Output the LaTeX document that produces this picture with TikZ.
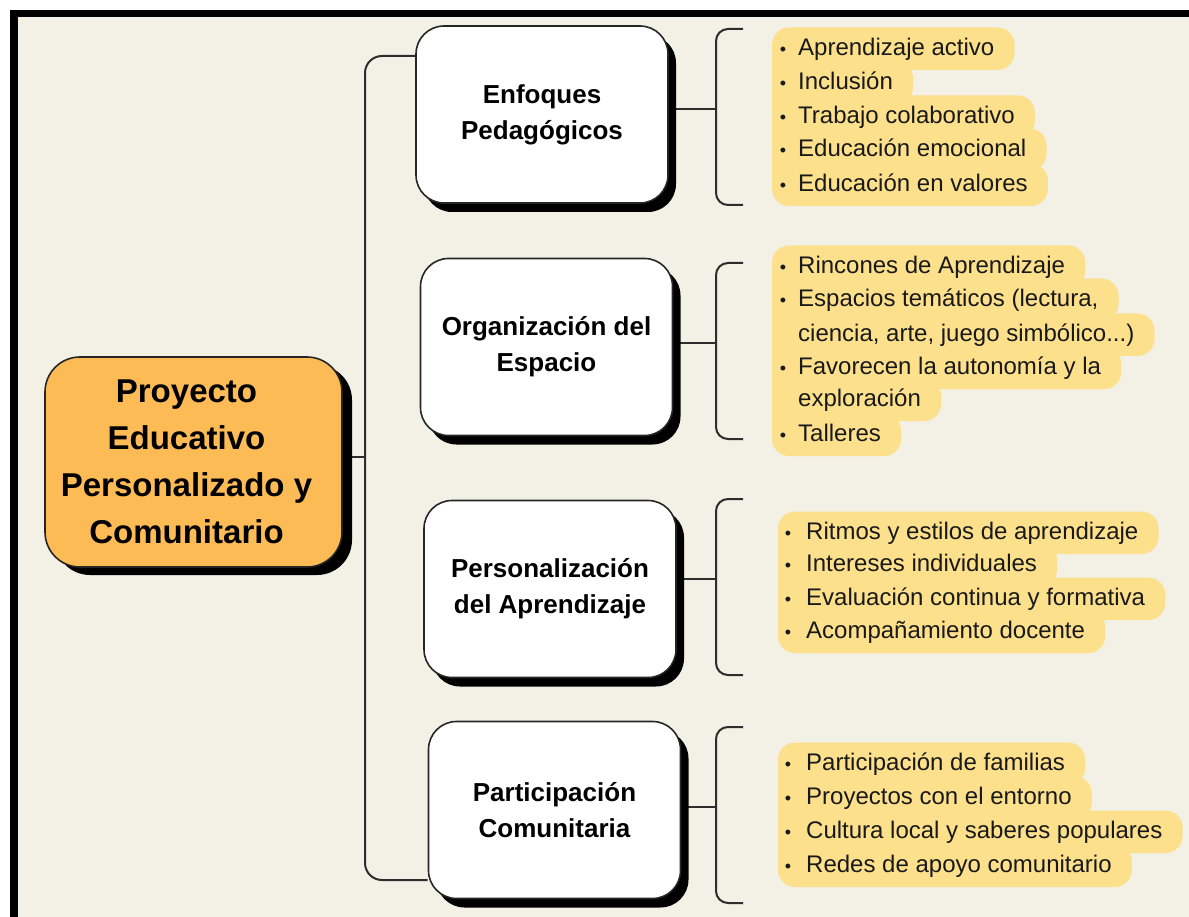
\documentclass[tikz,border=0pt]{standalone}
\usepackage{fontspec}
\setmainfont{Liberation Sans}
\usetikzlibrary{calc,shadows}
\definecolor{pagebg}{RGB}{243,240,230}
\definecolor{hlcol}{RGB}{253,224,140}
\definecolor{orangebox}{RGB}{253,187,85}
\definecolor{linecol}{RGB}{45,45,45}
\pgfdeclarelayer{bglayer}
\pgfdeclarelayer{hllayer}
\pgfsetlayers{bglayer,hllayer,main}
% row text: name, text x, center y, text
\newcommand\rowtxt[4]{\node[itemtxt, anchor=base west] (#1) at (#2,#3+8.5) {#4};}
% bullet: name, x, center y
\newcommand\rowbul[3]{\node[bul, anchor=base] (#1) at (#2,#3+8.5) {•};}
% highlight of one row: left x, center y, node
\newcommand\hlrow[3]{\fill[hlcol, rounded corners=17pt] (#1,#2-19.5) rectangle ($(#3.east |- 0,#2+23)+(20,0)$);}
% filler between two rows: left x, y1, y2, nodeA, nodeB
\newcommand\hlgap[5]{\fill[hlcol] let \p1=(#4.east), \p2=(#5.east) in (#1,#2) rectangle ({min(\x1,\x2)+3pt},{-#3pt});}
\begin{document}
\begin{tikzpicture}[x=1pt,y=-1pt,
  conn/.style={draw=linecol, line width=2pt},
  topic/.style={draw=black!85, line width=1.6pt, fill=white, rounded corners=28pt,
    minimum width=252pt, minimum height=177pt, align=center, text=black,
    font=\fontsize{26}{36}\selectfont\bfseries,
    drop shadow={shadow xshift=8pt, shadow yshift=-9pt, opacity=1, fill=black}},
  central/.style={draw=black!85, line width=1.6pt, fill=orangebox, rounded corners=35pt,
    minimum width=297pt, minimum height=210pt, text=black,
    font=\fontsize{33}{47}\selectfont\bfseries,
    drop shadow={shadow xshift=10pt, shadow yshift=-8pt, opacity=1, fill=black}},
  itemtxt/.style={inner sep=0pt, text=black!90, font=\fontsize{24}{34}\selectfont},
  bul/.style={inner sep=0pt, text=black!90, font=\fontsize{18}{20}\selectfont}
]
\useasboundingbox (0,0) rectangle (1189,917);
\begin{pgfonlayer}{bglayer}
  \fill[white] (0,0) rectangle (1189,917);
  \fill[pagebg] (17.5,17.5) rectangle (1189,917);
  \fill[black] (10,10) rectangle (1189,17.5);
  \fill[black] (10,10) rectangle (17.5,917);
\end{pgfonlayer}

% main nodes
\node[central] (c) at (193.5,462) {\hspace*{-14pt}\parbox{270pt}{\centering Proyecto\\Educativo\\Personalizado y\\Comunitario}};
\node[topic] (b1) at (542,114.5) {Enfoques\\Pedagógicos};
\node[topic] (b2) at (546.5,347) {Organización del\\Espacio};
\node[topic] (b3) at (550,589) {Personalización\\del Aprendizaje};
\node[topic] (b4) at (554.5,810) {Participación\\Comunitaria};

% group 1
\rowbul{u11}{783}{47}\rowtxt{r11}{798}{47}{Aprendizaje activo}
\rowbul{u12}{783}{81}\rowtxt{r12}{798}{81}{Inclusión}
\rowbul{u13}{783}{115}\rowtxt{r13}{798}{115}{Trabajo colaborativo}
\rowbul{u14}{783}{148}\rowtxt{r14}{798}{148}{Educación emocional}
\rowbul{u15}{783}{183}\rowtxt{r15}{798}{183}{Educación en valores}
% group 2
\rowbul{u21}{783}{265}\rowtxt{r21}{798}{265}{Rincones de Aprendizaje}
\rowbul{u22}{783}{298}\rowtxt{r22}{798}{298}{Espacios temáticos (lectura,}
\rowtxt{r23}{798}{333}{ciencia, arte, juego simbólico...)}
\rowbul{u24}{783}{366}\rowtxt{r24}{798}{366}{Favorecen la autonomía y la}
\rowtxt{r25}{798}{398}{exploración}
\rowbul{u26}{783}{433}\rowtxt{r26}{798}{433}{Talleres}
% group 3
\rowbul{u31}{788}{531}\rowtxt{r31}{806}{531}{Ritmos y estilos de aprendizaje}
\rowbul{u32}{788}{563}\rowtxt{r32}{806}{563}{Intereses individuales}
\rowbul{u33}{788}{597}\rowtxt{r33}{806}{597}{Evaluación continua y formativa}
\rowbul{u34}{788}{630}\rowtxt{r34}{806}{630}{Acompañamiento docente}
% group 4
\rowbul{u41}{788}{762}\rowtxt{r41}{806}{762}{Participación de familias}
\rowbul{u42}{788}{796}\rowtxt{r42}{806}{796}{Proyectos con el entorno}
\rowbul{u43}{788}{830}\rowtxt{r43}{806}{830}{Cultura local y saberes populares}
\rowbul{u44}{788}{864}\rowtxt{r44}{806}{864}{Redes de apoyo comunitario}

\begin{pgfonlayer}{hllayer}
  % highlights group 1
  \hlrow{772}{47}{r11}\hlrow{772}{81}{r12}\hlrow{772}{115}{r13}\hlrow{772}{148}{r14}\hlrow{772}{183}{r15}
  \hlgap{772}{47}{81}{r11}{r12}\hlgap{772}{81}{115}{r12}{r13}\hlgap{772}{115}{148}{r13}{r14}\hlgap{772}{148}{183}{r14}{r15}
  % group 2
  \hlrow{772}{265}{r21}\hlrow{772}{298}{r22}\hlrow{772}{333}{r23}\hlrow{772}{366}{r24}\hlrow{772}{398}{r25}\hlrow{772}{433}{r26}
  \hlgap{772}{265}{298}{r21}{r22}\hlgap{772}{298}{333}{r22}{r23}\hlgap{772}{333}{366}{r23}{r24}\hlgap{772}{366}{398}{r24}{r25}\hlgap{772}{398}{433}{r25}{r26}
  % group 3
  \hlrow{778}{531}{r31}\hlrow{778}{563}{r32}\hlrow{778}{597}{r33}\hlrow{778}{630}{r34}
  \hlgap{778}{531}{563}{r31}{r32}\hlgap{778}{563}{597}{r32}{r33}\hlgap{778}{597}{630}{r33}{r34}
  % group 4
  \hlrow{778}{762}{r41}\hlrow{778}{796}{r42}\hlrow{778}{830}{r43}\hlrow{778}{864}{r44}
  \hlgap{778}{762}{796}{r41}{r42}\hlgap{778}{796}{830}{r42}{r43}\hlgap{778}{830}{864}{r43}{r44}

  % trunk
  \coordinate (tt) at (365,56);
  \coordinate (tm) at (365,457);
  \coordinate (tb) at (365,880);
  \draw[conn, rounded corners=17pt] (b1.west |- tt) -| (tm) |- (b4.west |- tb);
  \draw[conn] (c.east |- tm) -- (tm);

  % brackets
  \coordinate (k1t) at (743,29);  \coordinate (k1m) at (716,109); \coordinate (k1b) at (743,205);
  \coordinate (k2t) at (743,263); \coordinate (k2m) at (716,343); \coordinate (k2b) at (743,439);
  \coordinate (k3t) at (743,499); \coordinate (k3m) at (716,579); \coordinate (k3b) at (743,675);
  \coordinate (k4t) at (743,727); \coordinate (k4m) at (716,807); \coordinate (k4b) at (743,903);
  \foreach \i in {1,2,3,4}{
    \draw[conn, rounded corners=12pt] (k\i t) -| (k\i m) |- (k\i b);
    \draw[conn] (b\i.east |- k\i m) -- (k\i m);
  }
\end{pgfonlayer}
\end{tikzpicture}
\end{document}
